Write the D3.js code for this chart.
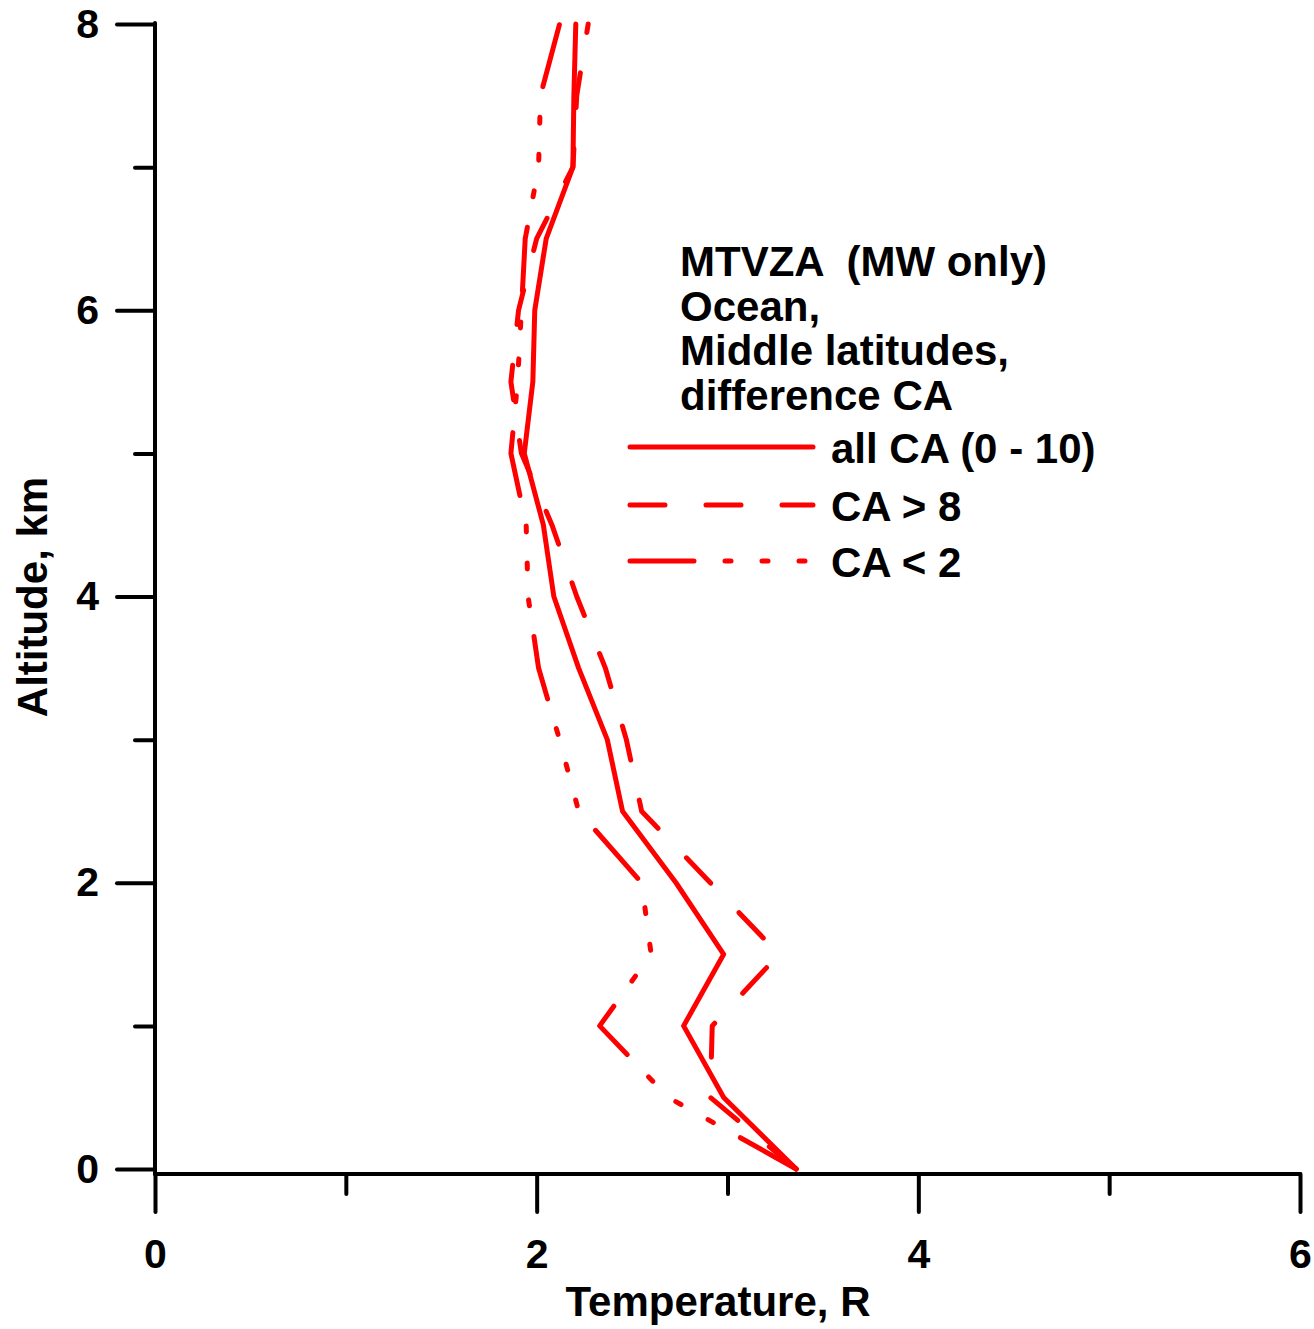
<!DOCTYPE html>
<html>
<head>
<meta charset="utf-8">
<script src="https://cdn.jsdelivr.net/npm/d3@7"></script>
<style>
  body { margin: 0; background: #fff; }
  svg { display: block; font-family: "Liberation Sans", Arial, sans-serif; font-weight: bold; }
</style>
</head>
<body>
<div class="chart"></div>
<script>
var width = 1314, height = 1329;

// altitude levels, km
var altitude = [0, 0.5, 1, 1.5, 2, 2.5, 3, 3.5, 4, 4.5, 5, 5.5, 6, 6.5, 7, 7.5, 8];
// temperature error, R
var allCA = [3.36, 2.98, 2.77, 2.98, 2.73, 2.45, 2.37, 2.22, 2.09, 2.035, 1.935, 1.98, 1.99, 2.05, 2.19, 2.195, 2.205];
var caGt8 = [3.36, 2.91, 2.92, 3.27, 2.91, 2.55, 2.47, 2.36, 2.21, 2.08, 1.92, 1.865, 1.905, 2.0, 2.19, 2.21, 2.27];
var caLt2 = [3.36, 2.69, 2.33, 2.60, 2.55, 2.22, 2.12, 2.01, 1.955, 1.945, 1.865, 1.90, 1.92, 1.94, 2.01, 2.02, 2.12];

var seriesNames = ["all CA (0 - 10)", "CA > 8", "CA < 2"];
var seriesDash = [null, "35,41", "64,31,6,31,6,31,6,31"];
var titleLines = ["MTVZA  (MW only)", "Ocean,", "Middle latitudes,", "difference CA"];

var xMajor = [0, 2, 4, 6], xMinor = [1, 3, 5];
var yMajor = [0, 2, 4, 6, 8], yMinor = [1, 3, 5, 7];

var svg = d3.select(".chart")
    .append("svg")
    .attr("width", width)
    .attr("height", height);

var x = d3.scaleLinear().domain([0, 6]).range([155, 1300]);
var y = d3.scaleLinear().domain([0, 8]).range([1169, 24]);
var xAxisY = 1174;

// y axis
var yAx = svg.append("g").attr("transform", "translate(" + x(0) + ",0)");
yAx.call(d3.axisLeft(y).tickValues(yMajor).tickSize(38).tickPadding(18).tickFormat(d3.format("d")));
var yAxMinor = svg.append("g").attr("transform", "translate(" + x(0) + ",0)");
yAxMinor.call(d3.axisLeft(y).tickValues(yMinor).tickSize(20).tickFormat(""));

// x axis
var xAx = svg.append("g").attr("transform", "translate(0," + xAxisY + ")");
xAx.call(d3.axisBottom(x).tickValues(xMajor).tickSize(38).tickPadding(27).tickFormat(d3.format("d")));
var xAxMinor = svg.append("g").attr("transform", "translate(0," + xAxisY + ")");
xAxMinor.call(d3.axisBottom(x).tickValues(xMinor).tickSize(20).tickFormat(""));

svg.selectAll(".domain").remove();
svg.selectAll(".tick line")
    .attr("stroke", "#000")
    .attr("stroke-width", 4)
    .attr("stroke-linecap", "round");
svg.selectAll(".tick text")
    .attr("fill", "#000")
    .style("font-size", "41px")
    .style("font-weight", "bold")
    .style("font-family", "'Liberation Sans', Arial, sans-serif");

// axis lines
svg.append("line")
    .attr("x1", x(0)).attr("x2", x(0))
    .attr("y1", y(8) - 1).attr("y2", xAxisY)
    .attr("stroke", "#000").attr("stroke-width", 4).attr("stroke-linecap", "round");
svg.append("line")
    .attr("x1", x(0)).attr("x2", x(6))
    .attr("y1", xAxisY).attr("y2", xAxisY)
    .attr("stroke", "#000").attr("stroke-width", 4).attr("stroke-linecap", "round");

// profiles
var line = d3.line()
    .x(function(d){ return x(d[0]); })
    .y(function(d){ return y(d[1]); });

[allCA, caGt8, caLt2].forEach(function(vals, i){
  var pts = altitude.map(function(a, j){ return [vals[j], a]; });
  svg.append("path")
    .datum(pts)
    .attr("fill", "none")
    .attr("stroke", "#ff0000")
    .attr("stroke-width", 5)
    .attr("stroke-linecap", "round")
    .attr("stroke-linejoin", "round")
    .attr("stroke-dasharray", seriesDash[i])
    .attr("d", line);
});

// title block
var title = svg.append("text")
    .attr("x", 680)
    .attr("y", 276)
    .attr("xml:space", "preserve")
    .style("white-space", "pre")
    .style("font-size", "42px");
titleLines.forEach(function(t, i){
  title.append("tspan").attr("x", 680).attr("dy", i === 0 ? 0 : 44.5).text(t);
});

// legend
var legendY = [447, 505, 561];
seriesNames.forEach(function(name, i){
  svg.append("line")
    .attr("x1", 630).attr("x2", 813)
    .attr("y1", legendY[i]).attr("y2", legendY[i])
    .attr("stroke", "#ff0000")
    .attr("stroke-width", 5)
    .attr("stroke-linecap", "round")
    .attr("stroke-dasharray", seriesDash[i]);
  svg.append("text")
    .attr("x", 831)
    .attr("y", legendY[i] + 16)
    .style("font-size", "42px")
    .text(name);
});

// axis titles
svg.append("text")
    .attr("x", 718)
    .attr("y", 1316)
    .attr("text-anchor", "middle")
    .style("font-size", "42px")
    .text("Temperature, R");

svg.append("text")
    .attr("transform", "translate(47,597) rotate(-90)")
    .attr("text-anchor", "middle")
    .style("font-size", "42px")
    .text("Altitude, km");
</script>
</body>
</html>
